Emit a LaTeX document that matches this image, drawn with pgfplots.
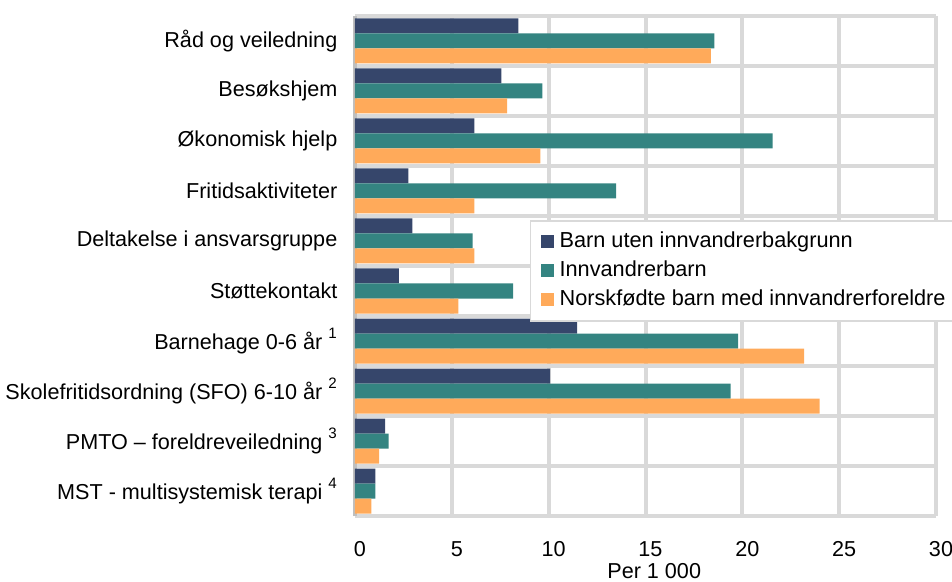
\documentclass[border=0pt]{standalone}
\usepackage{pgfplots}
\pgfplotsset{compat=1.18}
\usepackage{fontspec}
\setmainfont{Liberation Sans}
\definecolor{cnavy}{HTML}{36466B}
\definecolor{cteal}{HTML}{348481}
\definecolor{corange}{HTML}{FFAA5A}
\definecolor{gridgray}{HTML}{D9D9D9}
\definecolor{axgray}{HTML}{BFBFBF}
\begin{document}
\fontsize{21.6pt}{26pt}\selectfont
\begin{tikzpicture}[font=\fontsize{21.6pt}{26pt}\selectfont]
\path[use as bounding box] (-355pt,-65pt) rectangle (597pt,516pt);
\begin{axis}[
  xbar, scale only axis, width=581pt, height=500pt,
  at={(0,0)}, anchor=south west,
  xmin=0, xmax=30, ymin=-0.5, ymax=9.5,
  xtick={0,5,...,30}, ytick={0,1,...,9},
  yticklabels={{MST - multisystemisk terapi \raisebox{3pt}{\textsuperscript{4}}},
    {PMTO – foreldreveiledning \raisebox{3pt}{\textsuperscript{3}}},
    {Skolefritidsordning (SFO) 6-10 år \raisebox{3pt}{\textsuperscript{2}}},
    {Barnehage 0-6 år \raisebox{3pt}{\textsuperscript{1}}},
    {Støttekontakt},
    {Deltakelse i ansvarsgruppe},
    {Fritidsaktiviteter},
    {Økonomisk hjelp},
    {Besøkshjem},
    {Råd og veiledning}},
  minor ytick={-0.5,0.5,...,9.5},
  xmajorgrids=true, yminorgrids=true, ymajorgrids=false,
  grid style={line width=4pt, color=gridgray},
  minor grid style={line width=4pt, color=gridgray},
  axis line style={draw=none},
  tick style={draw=none},
  bar width=15pt,
  /pgf/number format/assume math mode=true,
  tick label style={font=\fontsize{21.6pt}{26pt}\selectfont},
  xticklabel style={yshift=-18pt, xshift=5pt},
  yticklabel style={xshift=-6pt},
  xlabel={Per 1 000},
  xlabel style={at={(axis description cs:0.515,0)}, anchor=north, yshift=-46pt, inner sep=1pt, font=\fontsize{21.6pt}{26pt}\selectfont},
  extra x ticks={0}, extra x tick labels={},
  extra x tick style={grid style={line width=4pt, color=axgray}},
  legend style={at={(0.301,0.592)}, anchor=north west, draw=gridgray, line width=1.5pt,
    fill=white, inner sep=10pt, row sep=7pt, column sep=5pt,
    nodes={inner sep=1pt, text height=15.5pt, text depth=4.5pt},
    cells={anchor=west}, font=\fontsize{21.7pt}{26pt}\selectfont},
  legend image code/.code={\fill[#1,draw=none] (2pt,-6.5pt) rectangle (15pt,6.5pt);},
  clip=false,
]
\addplot[fill=cnavy, draw=none, bar shift=15pt] coordinates {
  (1.05,0) (1.55,1) (10.08,2) (11.47,3) (2.26,4) (2.96,5) (2.75,6) (6.16,7) (7.56,8) (8.44,9)};
\addplot[fill=cteal, draw=none, bar shift=0pt] coordinates {
  (1.05,0) (1.74,1) (19.40,2) (19.78,3) (8.16,4) (6.07,5) (13.48,6) (21.57,7) (9.67,8) (18.56,9)};
\addplot[fill=corange, draw=none, bar shift=-15pt] coordinates {
  (0.85,0) (1.25,1) (23.99,2) (23.19,3) (5.34,4) (6.16,5) (6.16,6) (9.57,7) (7.85,8) (18.37,9)};
\legend{Barn uten innvandrerbakgrunn, Innvandrerbarn, Norskfødte barn med innvandrerforeldre}
\end{axis}
\end{tikzpicture}
\end{document}
